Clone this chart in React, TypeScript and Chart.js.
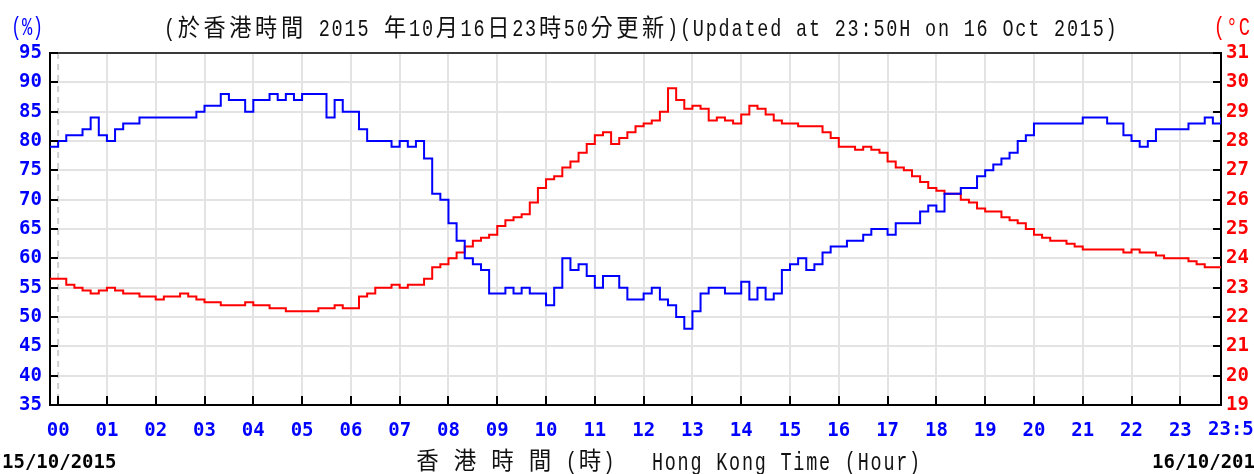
import React, { useEffect, useRef } from "react";
import { Chart, registerables } from "chart.js";

Chart.register(...registerables);

// Samples every 10 minutes, from 23:50 on 15/10/2015 (-10 min) to 23:50 on 16/10/2015 (1430 min)
const sampleStartMinute = -10;
const sampleStepMinutes = 10;

// Relative humidity (%)
const humidity: number[] = [
  79,
  80, 81, 81, 82, 84, 81, // 00
  80, 82, 83, 83, 84, 84, // 01
  84, 84, 84, 84, 84, 85, // 02
  86, 86, 88, 87, 87, 85, // 03
  87, 87, 88, 87, 88, 87, // 04
  88, 88, 88, 84, 87, 85, // 05
  85, 82, 80, 80, 80, 79, // 06
  80, 79, 80, 77, 71, 70, // 07
  66, 63, 60, 59, 58, 54, // 08
  54, 55, 54, 55, 54, 54, // 09
  52, 55, 60, 58, 59, 57, // 10
  55, 57, 57, 55, 53, 53, // 11
  54, 55, 53, 52, 50, 48, // 12
  51, 54, 55, 55, 54, 54, // 13
  56, 53, 55, 53, 54, 58, // 14
  59, 60, 58, 59, 61, 62, // 15
  62, 63, 63, 64, 65, 65, // 16
  64, 66, 66, 66, 68, 69, // 17
  68, 71, 71, 72, 72, 74, // 18
  75, 76, 77, 78, 80, 81, // 19
  83, 83, 83, 83, 83, 83, // 20
  84, 84, 84, 83, 83, 81, // 21
  80, 79, 80, 82, 82, 82, // 22
  82, 83, 83, 84, 83, 84, // 23
];

// Air temperature (°C)
const temperature: number[] = [
  23.3,
  23.3, 23.1, 23.0, 22.9, 22.8, 22.9, // 00
  23.0, 22.9, 22.8, 22.8, 22.7, 22.7, // 01
  22.6, 22.7, 22.7, 22.8, 22.7, 22.6, // 02
  22.5, 22.5, 22.4, 22.4, 22.4, 22.5, // 03
  22.4, 22.4, 22.3, 22.3, 22.2, 22.2, // 04
  22.2, 22.2, 22.3, 22.3, 22.4, 22.3, // 05
  22.3, 22.7, 22.8, 23.0, 23.0, 23.1, // 06
  23.0, 23.1, 23.1, 23.3, 23.7, 23.8, // 07
  24.0, 24.2, 24.4, 24.6, 24.7, 24.8, // 08
  25.1, 25.3, 25.4, 25.5, 25.9, 26.4, // 09
  26.7, 26.8, 27.1, 27.3, 27.6, 27.9, // 10
  28.2, 28.3, 27.9, 28.1, 28.3, 28.5, // 11
  28.6, 28.7, 29.0, 29.8, 29.4, 29.1, // 12
  29.2, 29.1, 28.7, 28.8, 28.7, 28.6, // 13
  28.9, 29.2, 29.1, 28.9, 28.7, 28.6, // 14
  28.6, 28.5, 28.5, 28.5, 28.3, 28.1, // 15
  27.8, 27.8, 27.7, 27.8, 27.7, 27.6, // 16
  27.3, 27.1, 27.0, 26.8, 26.6, 26.4, // 17
  26.3, 26.2, 26.2, 26.0, 25.9, 25.7, // 18
  25.6, 25.6, 25.4, 25.3, 25.2, 25.0, // 19
  24.8, 24.7, 24.6, 24.6, 24.5, 24.4, // 20
  24.3, 24.3, 24.3, 24.3, 24.3, 24.2, // 21
  24.3, 24.2, 24.2, 24.1, 24.0, 24.0, // 22
  24.0, 23.9, 23.8, 23.7, 23.7, 23.7, // 23
];

// X axis ticks (minutes after midnight) and labels
const xTickValues = [0, 60, 120, 180, 240, 300, 360, 420, 480, 540, 600, 660, 720, 780, 840, 900, 960, 1020, 1080, 1140, 1200, 1260, 1320, 1380, 1430];
const xTickLabels = ["00", "01", "02", "03", "04", "05", "06", "07", "08", "09", "10", "11", "12", "13", "14", "15", "16", "17", "18", "19", "20", "21", "22", "23", "23:50"];

const humidityTicks = [35, 40, 45, 50, 55, 60, 65, 70, 75, 80, 85, 90, 95];
const temperatureTicks = [19, 20, 21, 22, 23, 24, 25, 26, 27, 28, 29, 30, 31];

const titleZh = "(於香港時間 2015 年10月16日23時50分更新)";
const titleEn = "(Updated at 23:50H on 16 Oct 2015)";
const axisTitleZh = "香 港 時 間 (時)";
const axisTitleEn = "Hong Kong Time (Hour)";
const startDate = "15/10/2015";
const endDate = "16/10/2015";
const leftUnit = "(%)";
const rightUnit = "(°C";

const BLUE = "#0000ff";
const RED = "#ff0000";
const GRID = "#e3e3e3";
const TICK_FONT = { family: "'DejaVu Sans Mono', monospace", size: 19, weight: "bold" as const };

function drawMono(ctx: CanvasRenderingContext2D, text: string, x0: number, yMid: number, cell: number, font: string, color: string, squeeze: number) {
  ctx.save();
  ctx.font = font;
  ctx.fillStyle = color;
  ctx.textBaseline = "middle";
  ctx.textAlign = "center";
  let x = x0;
  for (const ch of text) {
    const wide = ch.charCodeAt(0) > 0x2e80;
    const w = wide ? cell * 2 : cell;
    if (ch !== " ") ctx.fillText(ch, x + w / 2, yMid, w * squeeze);
    x += w;
  }
  ctx.restore();
}

const decorPlugin = {
  id: "decor",
  beforeDatasetsDraw(chart: any) {
    const { ctx, chartArea, scales } = chart;
    const x0 = scales.x.getPixelForValue(0);
    ctx.save();
    ctx.strokeStyle = "#cfcfcf";
    ctx.lineWidth = 2;
    ctx.setLineDash([6, 5]);
    ctx.beginPath();
    ctx.moveTo(x0, chartArea.top);
    ctx.lineTo(x0, chartArea.bottom);
    ctx.stroke();
    ctx.restore();
  },
  afterDraw(chart: any) {
    const { ctx, chartArea, scales } = chart;
    const { left, right, top, bottom } = chartArea;
    ctx.save();
    // top frame line
    ctx.strokeStyle = "#3a3a3a";
    ctx.lineWidth = 2;
    ctx.beginPath();
    ctx.moveTo(left, top);
    ctx.lineTo(right, top);
    ctx.stroke();
    // inward tick marks
    ctx.strokeStyle = "#000";
    ctx.lineWidth = 2;
    ctx.beginPath();
    for (const v of humidityTicks) {
      const y = Math.round(scales.y.getPixelForValue(v));
      ctx.moveTo(left, y);
      ctx.lineTo(left + 8, y);
    }
    for (const v of temperatureTicks) {
      const y = Math.round(scales.y2.getPixelForValue(v));
      ctx.moveTo(right, y);
      ctx.lineTo(right - 8, y);
    }
    for (let i = 0; i < xTickValues.length - 1; i++) {
      const x = Math.round(scales.x.getPixelForValue(xTickValues[i]));
      ctx.moveTo(x, bottom);
      ctx.lineTo(x, bottom - 9);
    }
    ctx.stroke();
    ctx.restore();

    // last x label, shifted like the original
    ctx.save();
    ctx.font = `bold 19px 'DejaVu Sans Mono', monospace`;
    ctx.fillStyle = BLUE;
    ctx.textBaseline = "middle";
    ctx.textAlign = "left";
    const lastX = scales.x.getPixelForValue(xTickValues[xTickValues.length - 1]);
    ctx.fillText(xTickLabels[xTickLabels.length - 1], lastX - 13, 430);
    // dates
    ctx.fillStyle = "#000";
    ctx.fillText(startDate, 2, 463);
    ctx.fillText(endDate, 1152, 463);
    ctx.restore();

    // titles
    const cell = 12.9;
    const tFont = `24px 'Liberation Mono', 'Noto Sans CJK TC', monospace`;
    drawMono(ctx, titleZh, 163, 30, cell, tFont, "#111", 0.86);
    drawMono(ctx, titleEn, 163 + 40 * cell, 30, cell, tFont, "#111", 0.86);
    drawMono(ctx, axisTitleZh, 415, 463, 12.5, tFont, "#111", 0.9);
    drawMono(ctx, axisTitleEn, 651, 463, 12.86, `25px 'Liberation Mono', monospace`, "#111", 0.86);
    drawMono(ctx, leftUnit, 11, 28, 10.8, `26px 'Liberation Mono', monospace`, BLUE, 0.95);
    drawMono(ctx, rightUnit, 1213, 28, 12.5, `26px 'Liberation Mono', monospace`, RED, 0.9);
  },
};

export default function App() {
  const canvasRef = useRef<HTMLCanvasElement | null>(null);

  useEffect(() => {
    const canvas = canvasRef.current;
    if (!canvas) return;
    const toPoints = (vals: number[]) =>
      vals.map((v, i) => ({ x: sampleStartMinute + i * sampleStepMinutes, y: v }));

    const chart = new Chart(canvas, {
      type: "line",
      data: {
        datasets: [
          {
            label: "Relative Humidity",
            data: toPoints(humidity),
            borderColor: BLUE,
            borderWidth: 2,
            stepped: true,
            pointRadius: 0,
            yAxisID: "y",
          },
          {
            label: "Temperature",
            data: toPoints(temperature),
            borderColor: RED,
            borderWidth: 2,
            stepped: true,
            pointRadius: 0,
            yAxisID: "y2",
          },
        ],
      },
      options: {
        animation: false,
        responsive: false,
        devicePixelRatio: 1,
        layout: { padding: { top: 53, left: 0, right: 0, bottom: 0 } },
        plugins: {
          legend: { display: false },
          tooltip: { enabled: false },
          title: { display: false },
        },
        scales: {
          x: {
            type: "linear",
            min: -10,
            max: 1430,
            afterBuildTicks: (scale: any) => {
              scale.ticks = xTickValues.map((v) => ({ value: v }));
            },
            afterFit: (scale: any) => {
              scale.height = 69;
            },
            ticks: {
              autoSkip: false,
              maxRotation: 0,
              minRotation: 0,
              color: BLUE,
              font: TICK_FONT,
              padding: 15,
              callback: (value: any) => {
                const idx = xTickValues.indexOf(Number(value));
                if (idx === xTickValues.length - 1) return "";
                return idx >= 0 ? xTickLabels[idx] : "";
              },
            },
            grid: {
              drawTicks: false,
              lineWidth: 2,
              color: (ctx: any) => {
                const v = ctx.tick ? ctx.tick.value : null;
                if (v === 0 || v === 1430) return "rgba(0,0,0,0)";
                return GRID;
              },
            },
            border: { color: "#000", width: 2 },
          },
          y: {
            position: "left",
            min: 35,
            max: 95,
            afterBuildTicks: (scale: any) => {
              scale.ticks = humidityTicks.map((v) => ({ value: v }));
            },
            afterFit: (scale: any) => {
              scale.width = 50;
            },
            ticks: { color: BLUE, font: TICK_FONT, padding: 8 },
            grid: { drawTicks: false, lineWidth: 2, color: GRID },
            border: { color: "#000", width: 2 },
          },
          y2: {
            position: "right",
            min: 19,
            max: 31,
            afterBuildTicks: (scale: any) => {
              scale.ticks = temperatureTicks.map((v) => ({ value: v }));
            },
            afterFit: (scale: any) => {
              scale.width = 33;
            },
            ticks: { color: RED, font: TICK_FONT, padding: 5 },
            grid: { drawTicks: false, drawOnChartArea: false },
            border: { color: "#000", width: 2 },
          },
        },
      },
      plugins: [decorPlugin],
    } as any);

    return () => chart.destroy();
  }, []);

  return (
    <div style={{ position: "fixed", left: 0, top: 0, width: 1254, height: 474, background: "#fff" }}>
      <canvas ref={canvasRef} width={1254} height={474} style={{ display: "block", width: 1254, height: 474 }} />
    </div>
  );
}
